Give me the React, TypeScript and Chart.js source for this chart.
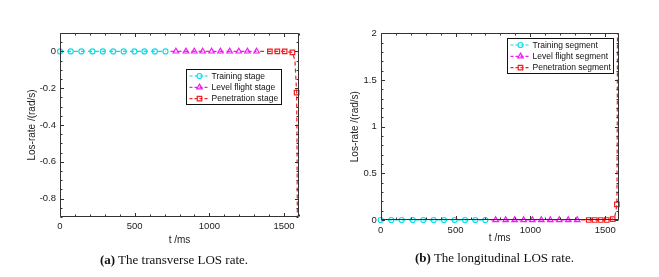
import React, { useEffect, useRef } from "react";
import { Chart, registerables } from "chart.js";

Chart.register(...registerables);

// ---------- Data: (a) transverse LOS rate ----------
const legendA = ["Training stage", "Level flight stage", "Penetration stage"];
const trainTimeA = [0, 72, 143, 217, 287, 356, 426, 498, 565, 635, 706];
const trainRateA = [0, 0, 0, 0, 0, 0, 0, 0, 0, 0, 0];
const trainMarkA = [1, 1, 1, 1, 1, 1, 1, 1, 1, 1, 1];
const levelTimeA = [740, 776, 843, 899, 955, 1015, 1074, 1136, 1197, 1255, 1316];
const levelRateA = [0, 0, 0, 0, 0, 0, 0, 0, 0, 0, 0];
const levelMarkA = [0, 1, 1, 1, 1, 1, 1, 1, 1, 1, 1];
const penTimeA = [1340, 1405, 1455, 1504, 1556, 1573, 1584, 1587, 1589];
const penRateA = [0, 0, 0, 0, -0.005, -0.05, -0.224, -0.55, -0.9];
const penMarkA = [0, 1, 1, 1, 1, 0, 1, 0, 0];
const xTicksA = [0, 500, 1000, 1500];
const yTicksA = [0, -0.2, -0.4, -0.6, -0.8];

// ---------- Data: (b) longitudinal LOS rate ----------
const legendB = ["Training segment", "Level flight segment", "Penetration segment"];
const trainTimeB = [0, 71, 140, 214, 285, 354, 423, 494, 563, 632, 699];
const trainRateB = [0, 0, 0, 0, 0, 0, 0, 0, 0, 0, 0];
const trainMarkB = [1, 1, 1, 1, 1, 1, 1, 1, 1, 1, 1];
const levelTimeB = [735, 768, 835, 895, 955, 1013, 1073, 1133, 1193, 1253, 1313];
const levelRateB = [0, 0, 0, 0, 0, 0, 0, 0, 0, 0, 0];
const levelMarkB = [0, 1, 1, 1, 1, 1, 1, 1, 1, 1, 1];
const penTimeB = [1340, 1390, 1430, 1470, 1510, 1550, 1566, 1578, 1580, 1582];
const penRateB = [0, 0, 0, 0, 0, 0.01, 0.05, 0.167, 0.8, 2];
const penMarkB = [0, 1, 1, 1, 1, 1, 0, 1, 0, 0];
const xTicksB = [0, 500, 1000, 1500];
const yTicksB = [0, 0.5, 1, 1.5, 2];

const xTitle = "t /ms";
const yTitle = "Los-rate /(rad/s)";
const captionA = ["(a)", " The transverse LOS rate."];
const captionB = ["(b)", " The longitudinal LOS rate."];

const FONT = "'Liberation Sans', Arial, Helvetica, sans-serif";
const CYAN = "#10dce8";
const MAGENTA = "#f01cf0";
const RED = "#ee2222";
const AXIS = "#333333";

Chart.defaults.font.family = FONT;

const framePlugin = {
  id: "frame",
  afterDatasetsDraw(chart: any, _args: any, opts: any) {
    const { ctx, chartArea } = chart;
    const L = Math.round(chartArea.left) + 0.5;
    const R = Math.round(chartArea.right) - 0.5;
    const T = Math.round(chartArea.top) + 0.5;
    const B = Math.round(chartArea.bottom) - 0.5;
    const xs = chart.scales.x;
    const ys = chart.scales.y;
    ctx.save();
    ctx.strokeStyle = AXIS;
    ctx.lineWidth = 1;
    ctx.beginPath();
    ctx.rect(L, T, R - L, B - T);
    ctx.stroke();
    ctx.beginPath();
    const major = 3.5;
    const minor = 2;
    const eps = 1e-9;
    for (let v = xs.min; v <= xs.max + eps; v += opts.xMinor) {
      const isMajor = opts.xMajor.some((m: number) => Math.abs(m - v) < 1e-6);
      const len = isMajor ? major : minor;
      const p = Math.round(xs.getPixelForValue(v)) + 0.5;
      ctx.moveTo(p, B);
      ctx.lineTo(p, B - len);
      ctx.moveTo(p, T);
      ctx.lineTo(p, T + len);
    }
    const n = Math.round((ys.max - ys.min) / opts.yMinor);
    for (let i = 0; i <= n; i++) {
      const v = ys.min + i * opts.yMinor;
      const isMajor = opts.yMajor.some((m: number) => Math.abs(m - v) < 1e-6);
      const len = isMajor ? major : minor;
      const p = Math.round(ys.getPixelForValue(v)) + 0.5;
      ctx.moveTo(L, p);
      ctx.lineTo(L + len, p);
      ctx.moveTo(R, p);
      ctx.lineTo(R - len, p);
    }
    ctx.stroke();
    ctx.restore();
  },
};

function drawMarker(ctx: CanvasRenderingContext2D, style: string, x: number, y: number, r: number) {
  ctx.beginPath();
  if (style === "circle") {
    ctx.arc(x, y, r, 0, Math.PI * 2);
  } else if (style === "triangle") {
    ctx.moveTo(x, y - r);
    ctx.lineTo(x + r * 0.866, y + r * 0.5);
    ctx.lineTo(x - r * 0.866, y + r * 0.5);
    ctx.closePath();
  } else {
    const s = r * Math.SQRT1_2;
    ctx.rect(x - s, y - s, 2 * s, 2 * s);
  }
  ctx.stroke();
}

const boxLegendPlugin = {
  id: "boxLegend",
  afterDraw(chart: any, _args: any, opts: any) {
    const { ctx, chartArea } = chart;
    const ds = chart.data.datasets;
    ctx.save();
    ctx.font = `8.5px ${FONT}`;
    const textW = Math.max(...ds.map((d: any) => ctx.measureText(d.label).width));
    const left = Math.round(chartArea.left + opts.dx) + 0.5;
    const top = Math.round(chartArea.top + opts.dy) + 0.5;
    const rowH = 11.3;
    const textX = left + 25;
    const w = Math.round(25 + textW + 3);
    const h = Math.round(rowH * 3 + 1.5);
    ctx.fillStyle = "#ffffff";
    ctx.fillRect(left, top, w, h);
    ctx.strokeStyle = "#111";
    ctx.lineWidth = 1;
    ctx.strokeRect(left, top, w, h);
    ds.forEach((d: any, i: number) => {
      const cy = top + 6.5 + i * rowH;
      ctx.strokeStyle = d.borderColor;
      ctx.lineWidth = 1.2;
      ctx.setLineDash([3, 2]);
      ctx.beginPath();
      ctx.moveTo(left + 3, cy);
      ctx.lineTo(left + 23, cy);
      ctx.stroke();
      ctx.setLineDash([]);
      drawMarker(ctx, d.pointStyle, left + 13, cy, d.markerSize);
      ctx.fillStyle = "#111";
      ctx.textBaseline = "middle";
      ctx.textAlign = "left";
      ctx.fillText(d.label, textX, cy + 0.5);
    });
    ctx.restore();
  },
};

function series(label: string, t: number[], y: number[], mark: number[], color: string, style: string, r: number) {
  return {
    label,
    data: t.map((v, i) => ({ x: v, y: y[i] })),
    showLine: true,
    borderColor: color,
    backgroundColor: "transparent",
    borderWidth: 1.2,
    borderDash: [4, 3],
    tension: 0,
    clip: false,
    pointStyle: style,
    markerSize: r,
    pointRadius: (c: any) => (mark[c.dataIndex] ? r : 0),
    pointBorderColor: color,
    pointBackgroundColor: "transparent",
    pointBorderWidth: 1.2,
  };
}

type Spec = {
  datasets: any[];
  xMax: number;
  yMin: number;
  yMax: number;
  xTicks: number[];
  yTicks: number[];
  xMinor: number;
  yMinor: number;
  padding: any;
  yWidth: number;
  xHeight: number;
  yTitlePad: number;
  xTickPad: number;
  legend: { dx: number; dy: number };
};

function makeConfig(s: Spec): any {
  return {
    type: "scatter",
    data: { datasets: s.datasets },
    options: {
      animation: false,
      responsive: false,
      devicePixelRatio: 1,
      events: [],
      layout: { padding: s.padding },
      plugins: {
        legend: { display: false },
        tooltip: { enabled: false },
        frame: { xMajor: s.xTicks, yMajor: s.yTicks, xMinor: s.xMinor, yMinor: s.yMinor },
        boxLegend: s.legend,
      },
      scales: {
        x: {
          type: "linear",
          min: 0,
          max: s.xMax,
          afterBuildTicks: (sc: any) => {
            sc.ticks = s.xTicks.map((v) => ({ value: v }));
          },
          afterFit: (sc: any) => {
            sc.height = s.xHeight;
          },
          grid: { display: false, drawTicks: false },
          border: { display: false },
          ticks: {
            autoSkip: false,
            maxRotation: 0,
            padding: s.xTickPad,
            color: "#222",
            font: { size: 9.5 },
            callback: (v: any) => String(v),
          },
          title: { display: true, text: xTitle, color: "#222", font: { size: 10 }, padding: 0 },
        },
        y: {
          type: "linear",
          min: s.yMin,
          max: s.yMax,
          afterBuildTicks: (sc: any) => {
            sc.ticks = s.yTicks.map((v) => ({ value: v }));
          },
          afterFit: (sc: any) => {
            sc.width = s.yWidth;
          },
          grid: { display: false, drawTicks: false },
          border: { display: false },
          ticks: {
            autoSkip: false,
            padding: 4,
            color: "#222",
            font: { size: 9.5 },
            callback: (v: any) => String(v),
          },
          title: {
            display: true,
            text: yTitle,
            color: "#222",
            font: { size: 10 },
            padding: { top: s.yTitlePad, bottom: 0 },
          },
        },
      },
    },
    plugins: [framePlugin, boxLegendPlugin],
  };
}

const specA: Spec = {
  datasets: [
    series(legendA[0], trainTimeA, trainRateA, trainMarkA, CYAN, "circle", 2.5),
    series(legendA[1], levelTimeA, levelRateA, levelMarkA, MAGENTA, "triangle", 3.2),
    series(legendA[2], penTimeA, penRateA, penMarkA, RED, "rect", 3.2),
  ],
  xMax: 1600,
  yMin: -0.9,
  yMax: 0.1,
  xTicks: xTicksA,
  yTicks: yTicksA,
  xMinor: 100,
  yMinor: 0.05,
  padding: { left: 0, top: 33, right: 31, bottom: 30.5 },
  yWidth: 60,
  xHeight: 29.5,
  yTitlePad: 26.5,
  xTickPad: 4,
  legend: { dx: 126, dy: 36.3 },
};

const specB: Spec = {
  datasets: [
    series(legendB[0], trainTimeB, trainRateB, trainMarkB, CYAN, "circle", 2.5),
    series(legendB[1], levelTimeB, levelRateB, levelMarkB, MAGENTA, "triangle", 3.2),
    series(legendB[2], penTimeB, penRateB, penMarkB, RED, "rect", 3.2),
  ],
  xMax: 1590,
  yMin: 0,
  yMax: 2,
  xTicks: xTicksB,
  yTicks: yTicksB,
  xMinor: 100,
  yMinor: 0.1,
  padding: { left: 0, top: 33.3, right: 40.3, bottom: 33 },
  yWidth: 50.7,
  xHeight: 24,
  yTitlePad: 19.5,
  xTickPad: 5,
  legend: { dx: 126, dy: 4.4 },
};

function Plot({ spec, left, width }: { spec: Spec; left: number; width: number }) {
  const ref = useRef<HTMLCanvasElement>(null);
  useEffect(() => {
    const chart = new Chart(ref.current as HTMLCanvasElement, makeConfig(spec));
    return () => chart.destroy();
  }, [spec]);
  return (
    <canvas
      ref={ref}
      width={width}
      height={277}
      style={{ position: "absolute", left, top: 0, width, height: 277, display: "block" }}
    />
  );
}

function Caption({ parts, center, y }: { parts: string[]; center: number; y: number }) {
  return (
    <div
      style={{
        position: "absolute",
        left: center - 150,
        width: 300,
        top: y - 8,
        height: 16,
        lineHeight: "16px",
        textAlign: "center",
        fontFamily: "'Liberation Serif', 'Times New Roman', serif",
        fontSize: 13,
        color: "#111",
        whiteSpace: "nowrap",
      }}
    >
      <b>{parts[0]}</b>
      {parts[1]}
    </div>
  );
}

export default function App() {
  return (
    <div style={{ position: "absolute", left: 0, top: 0, width: 659, height: 277, background: "#fff", overflow: "hidden" }}>
      <Plot spec={specA} left={0} width={330} />
      <Plot spec={specB} left={330} width={329} />
      <Caption parts={captionA} center={174} y={260} />
      <Caption parts={captionB} center={494.5} y={258} />
    </div>
  );
}
